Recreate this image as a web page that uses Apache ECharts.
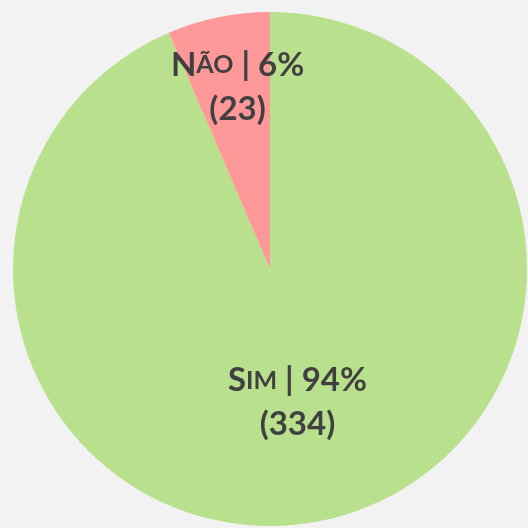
<!DOCTYPE html>
<html>
<head>
<meta charset="utf-8">
<script src="https://cdn.jsdelivr.net/npm/echarts@6/dist/echarts.min.js"></script>
<style>
  html, body { margin: 0; padding: 0; background: #f2f2f2; }
  #chart { width: 528px; height: 528px; }
</style>
</head>
<body>
<div id="chart"></div>
<script>
// respostas (ordem do gráfico, sentido horário a partir do topo)
var categories = ['Sim', 'Não']
var counts = [334, 23]
var colors = ['#b9e08d', '#ff9999']
// deslocamento dos rótulos em relação à posição "inside"
var labelOffsets = [[1, 5], [-6, -53]]

var myChart = echarts.init(document.getElementById('chart'))

var data = []
for (var i = 0; i < categories.length; i++) {
  data.push({
    name: categories[i],
    value: counts[i],
    itemStyle: { color: colors[i] },
    label: { offset: labelOffsets[i] }
  })
}

// versalete: primeira letra grande, resto em maiúsculas menores
function smallCaps(name) {
  return '{big|' + name.charAt(0) + '}{small|' + name.slice(1).toUpperCase() + '}'
}

myChart.setOption({
  backgroundColor: '#f2f2f2',
  animation: false,
  series: [
    {
      type: 'pie',
      center: [270, 269],
      radius: [0, 257],
      startAngle: 90,
      clockwise: true,
      percentPrecision: 0,
      itemStyle: { borderWidth: 0 },
      emphasis: { disabled: true },
      label: {
        show: true,
        position: 'inside',
        color: '#404040',
        fontFamily: 'Lato',
        fontWeight: 'bold',
        fontSize: 33,
        lineHeight: 44,
        formatter: function (p) {
          return smallCaps(p.name) + '{big| | ' + p.percent + '%}\n{big|(' + p.value + ')}'
        },
        rich: {
          big: { fontFamily: 'Lato', fontWeight: 'bold', fontSize: 33, lineHeight: 44, color: '#404040' },
          small: { fontFamily: 'Lato', fontWeight: 'bold', fontSize: 25, lineHeight: 44, color: '#404040' }
        }
      },
      labelLine: { show: false },
      data: data
    }
  ]
})
</script>
</body>
</html>
